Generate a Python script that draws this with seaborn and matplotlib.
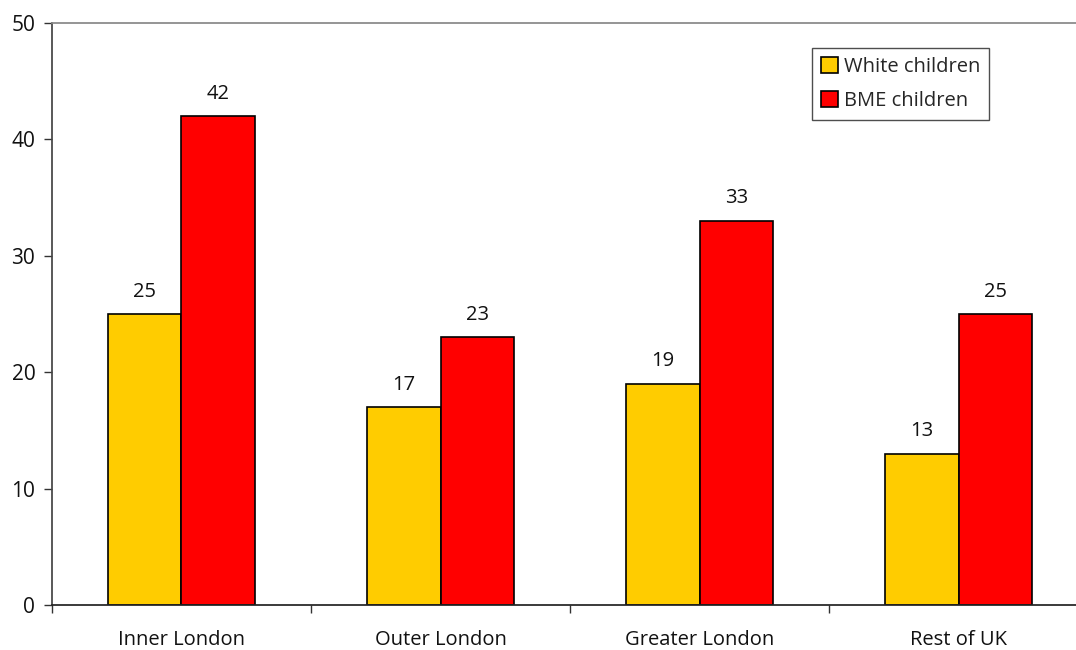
import matplotlib
matplotlib.use("Agg")
import matplotlib.pyplot as plt
import seaborn as sns
import pandas as pd
import numpy as np

regions = ["Inner London", "Outer London", "Greater London", "Rest of UK"]
white = [25, 17, 19, 13]
bme = [42, 23, 33, 25]
groups = ["White children", "BME children"]

df = pd.DataFrame({
    "region": regions * 2,
    "group": [groups[0]] * 4 + [groups[1]] * 4,
    "value": white + bme,
})

sns.set_theme(style="white")
plt.rcParams['font.family'] = ['Open Sans', 'DejaVu Sans']

fig = plt.figure(figsize=(10.76, 6.5), dpi=100)
ax = fig.add_axes([0.0483, 0.0692, 0.963, 0.8954])

sns.barplot(data=df, x="region", y="value", hue="group",
            palette=["#FFCC00", "#FF0000"], width=0.57,
            edgecolor="black", linewidth=1.2, ax=ax, saturation=1)

for c in ax.containers:
    ax.bar_label(c, padding=9, fontsize=14.5, color="#111111")

ax.set_xlim(-0.5, 3.5)
ax.set_ylim(0, 50)
ax.set_yticks(range(0, 51, 10))
ax.set_xlabel("")
ax.set_ylabel("")
ax.tick_params(axis="y", labelsize=15, length=6, width=1, color="#333333", pad=6, left=True,
               labelcolor="#111111")
ax.tick_params(axis="x", labelsize=14.5, length=0, pad=18, labelcolor="#111111")
ax.set_xticks(np.arange(-0.5, 3.6, 1), minor=True)
ax.tick_params(axis="x", which="minor", length=6, width=1, color="#333333", bottom=True)

ax.spines["right"].set_visible(False)
ax.spines["top"].set_color("#888888")
ax.spines["left"].set_color("#444444")
ax.spines["bottom"].set_color("#222222")

leg = ax.legend(loc="upper right", bbox_to_anchor=(0.9045, 0.957), borderaxespad=0,
                fontsize=14.5, frameon=True, fancybox=False, edgecolor="#222222",
                handlelength=0.85, handleheight=0.85, handletextpad=0.3,
                borderpad=0.45, labelspacing=0.7)
leg.get_frame().set_linewidth(1.0)

fig.savefig("out.png", dpi=100)
